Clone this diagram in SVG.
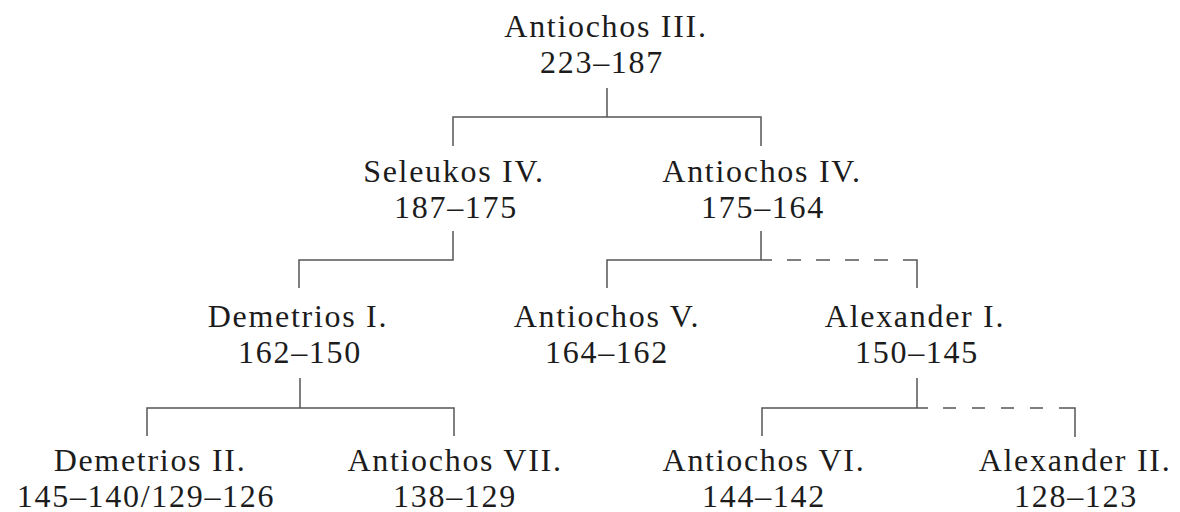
<svg xmlns="http://www.w3.org/2000/svg" width="1180" height="512" viewBox="0 0 1180 512">
<style>
.bg{fill:#ffffff}
text{font-family:"Liberation Serif","Times New Roman",serif;font-size:32px;letter-spacing:1.7px;fill:#1c1c1c;text-anchor:middle}
.ln{fill:none;stroke:#555;stroke-width:1.5}
.dash{fill:none;stroke:#555;stroke-width:1.5}
</style>
<rect class="bg" x="0" y="0" width="1180" height="512"/>
<g id="connectors">
<path class="ln" d="M607,88 V117 M453,146 V117 H761 V146"/>
<path class="ln" d="M453,231 V260 H299 V288"/>
<path class="ln" d="M761,231 V260 M607,288 V260 H772"/>
<path class="dash" d="M772,260 H903" stroke-dasharray="14 15" stroke-dashoffset="14"/>
<path class="ln" d="M903,260 H917 V288"/>
<path class="ln" d="M300,378 V408 M147,436 V408 H454 V436"/>
<path class="ln" d="M917,378 V408 M762,436 V408 H928"/>
<path class="dash" d="M928,408 H1060" stroke-dasharray="13 16" stroke-dashoffset="14"/>
<path class="ln" d="M1060,408 H1075 V437"/>
</g>
<g id="antiochos3"><text x="606" y="37">Antiochos III.</text><text x="602" y="73">223–187</text></g>
<g id="seleukos4"><text x="454" y="182">Seleukos IV.</text><text x="456" y="218">187–175</text></g>
<g id="antiochos4"><text x="762" y="182">Antiochos IV.</text><text x="763" y="218">175–164</text></g>
<g id="demetrios1"><text x="298" y="327">Demetrios I.</text><text x="300" y="363">162–150</text></g>
<g id="antiochos5"><text x="607" y="327">Antiochos V.</text><text x="607" y="363">164–162</text></g>
<g id="alexander1"><text x="915" y="327">Alexander I.</text><text x="917" y="363">150–145</text></g>
<g id="demetrios2"><text x="150" y="471">Demetrios II.</text><text x="146" y="507">145–140/129–126</text></g>
<g id="antiochos7"><text x="455" y="471">Antiochos VII.</text><text x="455" y="507">138–129</text></g>
<g id="antiochos6"><text x="764" y="471">Antiochos VI.</text><text x="764" y="507">144–142</text></g>
<g id="alexander2"><text x="1075" y="471">Alexander II.</text><text x="1076" y="507">128–123</text></g>
</svg>
